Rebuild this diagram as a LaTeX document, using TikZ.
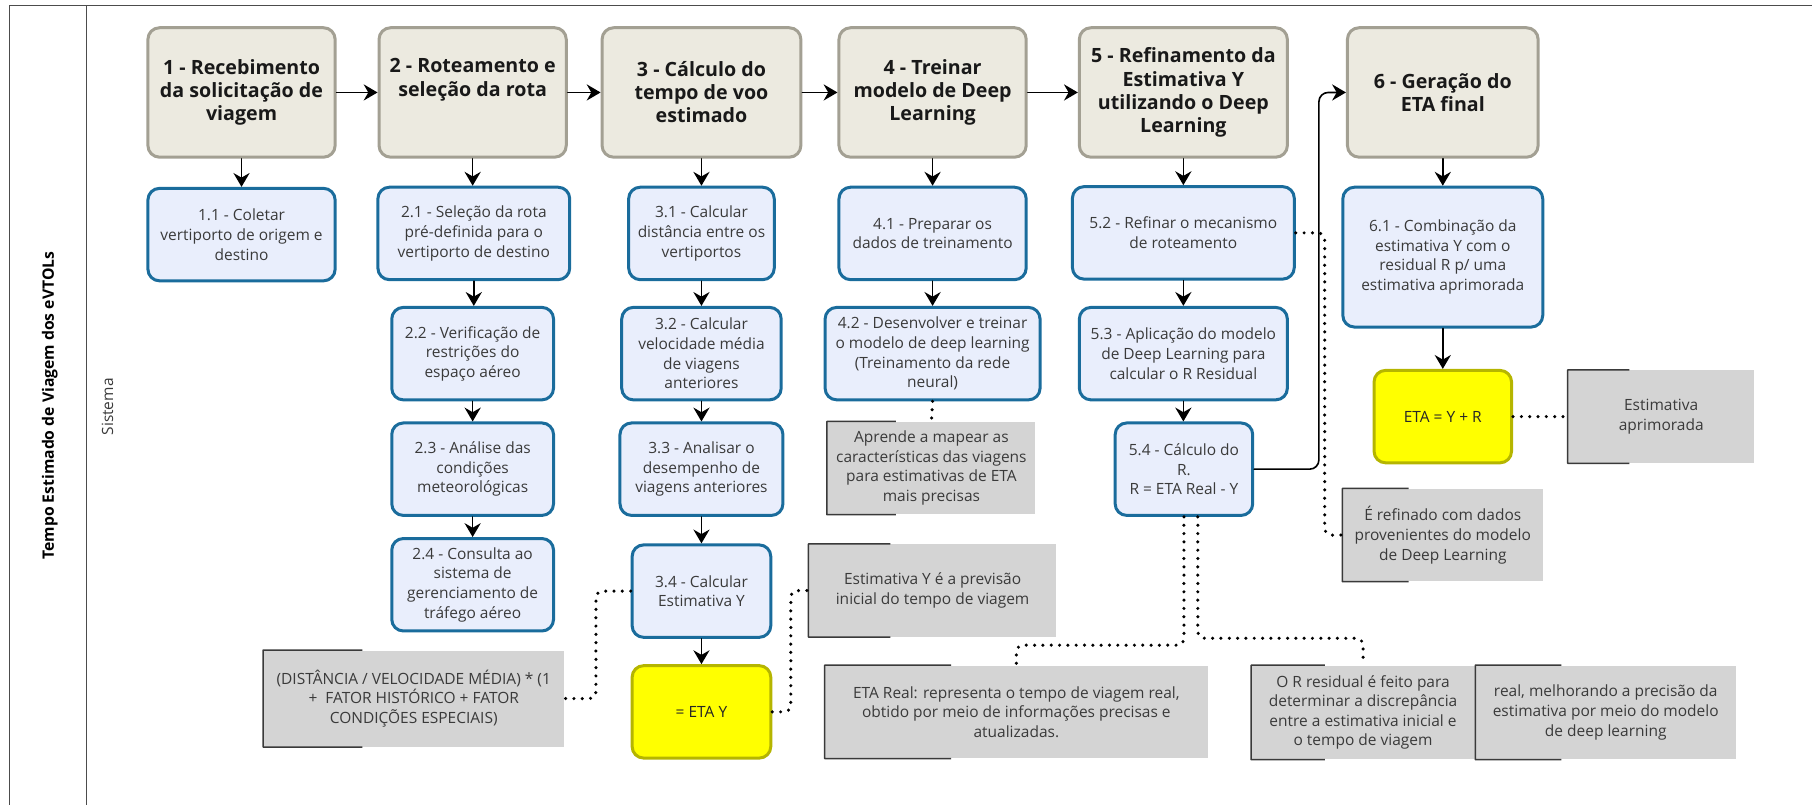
\documentclass[tikz,border=0pt]{standalone}
\usepackage{fontspec}
\setmainfont{Open Sans}
\usepackage{tikz}
\usetikzlibrary{arrows.meta,calc}
\definecolor{hdrfill}{HTML}{ECEAE0}
\definecolor{hdrline}{HTML}{A3A093}
\definecolor{taskfill}{HTML}{E9EEFC}
\definecolor{taskline}{HTML}{1A6C9C}
\definecolor{resfill}{HTML}{FFFF00}
\definecolor{resline}{HTML}{B5B500}
\definecolor{notefill}{HTML}{D4D4D4}
\definecolor{noteline}{HTML}{3A3A3A}
\definecolor{txtgray}{HTML}{3A3A3A}
\tikzset{
  every picture/.append style={line cap=round,line join=round},
  eta header/.style={draw=hdrline,fill=hdrfill,line width=1.3pt,rounded corners=5pt,align=center,
    font=\bfseries\fontsize{8.5}{10}\selectfont,text=black!90,minimum width=81pt,minimum height=56pt,inner sep=2pt},
  eta task/.style={draw=taskline,fill=taskfill,line width=1.3pt,rounded corners=5pt,align=center,
    font=\fontsize{6.7}{8.5}\selectfont,text=txtgray,minimum height=40pt,inner sep=2pt},
  eta result/.style={eta task,draw=resline,fill=resfill,text=black!85},
  eta note/.style={fill=notefill,align=center,font=\fontsize{6.7}{8.5}\selectfont,text=txtgray,
    minimum height=40pt,inner sep=2pt},
  eta bracket/.style={noteline,line width=0.65pt,line cap=butt},
  eta arrow/.style={line width=0.7pt,-{Stealth[length=6pt,width=7pt,inset=2pt]}},
  eta dotted/.style={line width=1.5pt,dash pattern=on 0pt off 3.6pt,rounded corners=3pt},
  eta pool/.style={black!70,line width=0.6pt,line cap=butt},
  eta pooltext/.style={rotate=90,font=\bfseries\fontsize{6.8}{8}\selectfont},
  eta lanetext/.style={rotate=90,font=\fontsize{6.7}{8}\selectfont,text=txtgray}
}
\begin{document}
\begin{tikzpicture}[x=0.5pt,y=-0.5pt]
  \useasboundingbox (0,0) rectangle (1568,697);
  % pool and lane
  \draw[eta pool] (1568,5) -- (8,5) -- (8,697);
  \draw[eta pool] (75,5) -- (75,697);
  \node[eta pooltext] (pool) at (43,351) {Tempo Estimado de Viagem dos eVTOLs};
  \node[eta lanetext] (lane) at (93,352) {Sistema};

  % main steps
  \node[eta header] (h1) at (209,80) {1 - Recebimento\\da solicitação de\\viagem};
  \node[eta header] (h2) at (409,80) {2 - Roteamento e\\seleção da rota\\\strut};
  \node[eta header,minimum width=86pt] (h3) at (607,80) {3 - Cálculo do\\tempo de voo\\estimado};
  \node[eta header] (h4) at (807,80) {4 - Treinar\\modelo de Deep\\Learning};
  \node[eta header,minimum width=90pt] (h5) at (1024,80) {5 - Refinamento da\\Estimativa Y\\utilizando o Deep\\Learning};
  \node[eta header,minimum width=82.5pt] (h6) at (1248.5,80) {6 - Geração do\\ETA final};

  % column 1 and 2
  \node[eta task,minimum width=81pt] (s11) at (209,203) {1.1 - Coletar\\vertiporto de origem e\\destino};
  \node[eta task,minimum width=83pt] (s21) at (410,202) {2.1 - Seleção da rota\\pré-definida para o\\vertiporto de destino};
  \node[eta task,minimum width=70pt] (s22) at (409,306) {2.2 - Verificação de\\restrições do\\espaço aéreo};
  \node[eta task,minimum width=70pt] (s23) at (409,406) {2.3 - Análise das\\condições\\meteorológicas};
  \node[eta task,minimum width=70pt] (s24) at (409,506) {2.4 - Consulta ao\\sistema de\\gerenciamento de\\tráfego aéreo};

  % column 3
  \node[eta task,minimum width=63pt] (s31) at (607,202) {3.1 - Calcular\\distância entre os\\vertiportos};
  \node[eta task,minimum width=69pt] (s32) at (607,306) {3.2 - Calcular\\velocidade média\\de viagens\\anteriores};
  \node[eta task,minimum width=70.5pt] (s33) at (607,406) {3.3 - Analisar o\\desempenho de\\viagens anteriores};
  \node[eta task,minimum width=60pt] (s34) at (607,511.5) {3.4 - Calcular\\Estimativa Y};
  \node[eta result,minimum width=60pt] (etay) at (607,616) {= ETA Y};

  % column 4
  \node[eta task,minimum width=81pt] (s41) at (807,202) {4.1 - Preparar os\\dados de treinamento};
  \node[eta task,minimum width=93pt] (s42) at (807,306) {4.2 - Desenvolver e treinar\\o modelo de deep learning\\(Treinamento da rede\\neural)};

  % column 5
  \node[eta task,minimum width=96pt] (s52) at (1024,201.5) {5.2 - Refinar o mecanismo\\de roteamento};
  \node[eta task,minimum width=90pt] (s53) at (1024,306) {5.3 - Aplicação do modelo\\de Deep Learning para\\calcular o R Residual};
  \node[eta task,minimum width=59.5pt] (s54) at (1024.5,406) {5.4 - Cálculo do\\R.\\R = ETA Real - Y};

  % column 6
  \node[eta task,minimum width=86.5pt,minimum height=60.5pt] (s61) at (1248.5,222.5) {6.1 - Combinação da\\estimativa Y com o\\residual R p/ uma\\estimativa aprimorada};
  \node[eta result,minimum width=59.5pt] (etafinal) at (1248.5,360.5) {ETA = Y + R};

  % annotations
  \node[eta note,minimum width=90pt] (aprende) at (806,405) {Aprende a mapear as\\características das viagens\\para estimativas de ETA\\mais precisas};
  \node[eta note,minimum width=80.5pt] (aprim) at (1437.5,360.5) {Estimativa\\aprimorada};
  \node[eta note,minimum width=86.5pt] (refin) at (1248.5,463) {É refinado com dados\\provenientes do modelo\\de Deep Learning};
  \node[eta note,minimum width=107pt] (annY) at (807,511) {Estimativa Y é a previsão\\inicial do tempo de viagem};
  \node[eta note,minimum width=130pt,minimum height=41.5pt] (dist) at (358,604.5) {(DISTÂNCIA / VELOCIDADE MÉDIA) * (1\\+\ \ FATOR HISTÓRICO + FATOR\\CONDIÇÕES ESPECIAIS)};
  \node[eta note,minimum width=165.5pt] (etareal) at (879.5,616) {ETA Real: representa o tempo de viagem real,\\obtido por meio de informações precisas e\\atualizadas.};
  \node[eta note,minimum width=96.5pt,minimum height=40.5pt] (oresid) at (1179.5,616.5) {O R residual é feito para\\determinar a discrepância\\entre a estimativa inicial e\\o tempo de viagem};
  \node[eta note,minimum width=112.5pt,minimum height=40.5pt] (melhor) at (1389.5,616.5) {real, melhorando a precisão da\\estimativa por meio do modelo\\de deep learning};
  \foreach \n in {aprende,aprim,refin,annY,dist,etareal,oresid,melhor}
    \draw[eta bracket] ($(\n.north west)!0.33!(\n.north east)$) -- (\n.north west)
      -- (\n.south west) -- ($(\n.south west)!0.33!(\n.south east)$);

  % sequence flow
  \foreach \a/\b in {h1/h2,h2/h3,h3/h4,h4/h5}
    \draw[eta arrow] (\a) -- (\b);
  \foreach \a/\b in {h1/s11,h2/s21,s21/s22,s22/s23,s23/s24,h3/s31,s31/s32,s32/s33,s33/s34,s34/etay,
                     h4/s41,s41/s42,h5/s52,s52/s53,s53/s54,h6/s61,s61/etafinal}
    \draw[eta arrow] (\a.south) -- (\a.south |- \b.north);
  \draw[eta arrow,rounded corners=4pt] (s54.east) -- ++(56,0) |- (h6.west);

  % associations
  \draw[eta dotted] (s42.south) -- (aprende.north);
  \draw[eta dotted] (s34.west) -- ++(-30,0) |- (dist.east);
  \draw[eta dotted] (etay.east) -- ++(16,0) |- (annY.west);
  \draw[eta dotted] (s52.east) -- ++(25,0) |- (refin.west);
  \draw[eta dotted] (etafinal.east) -- (aprim.west);
  \draw[eta dotted] (s54.south) -- ++(0,111) -| (etareal.north);
  \draw[eta dotted] ([xshift=6pt]s54.south) -- ++(0,105) -| (oresid.north);
\end{tikzpicture}
\end{document}
